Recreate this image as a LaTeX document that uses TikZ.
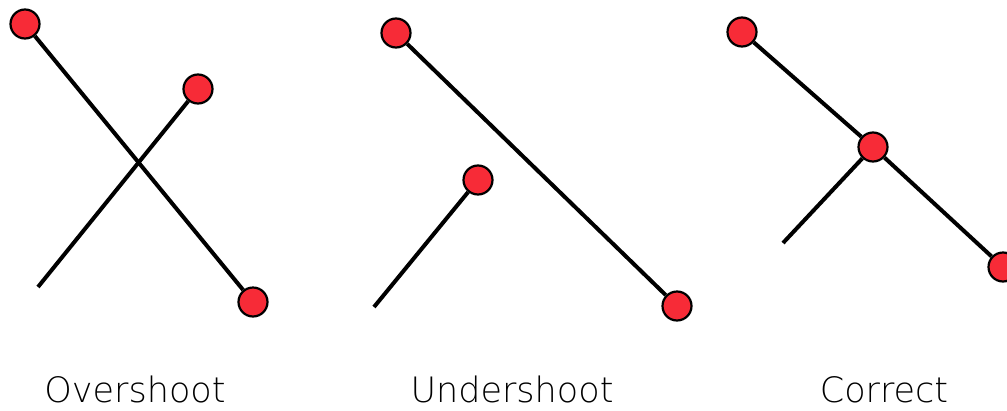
\documentclass[tikz,border=0pt]{standalone}
\usepackage{fontspec}
\setmainfont{DejaVu Sans}
\newfontfamily\fuenteetq{DejaVu Sans ExtraLight}
\usepackage{xcolor}
\usepackage{tikz}
\usetikzlibrary{positioning,calc}
\definecolor{crojo}{HTML}{F72B37}
\tikzset{
  nodo/.style={circle, draw=black, fill=crojo, line width=2.2pt,
    minimum size=29pt, inner sep=0pt},
  linea/.style={draw=black, line width=4pt},
  etq/.style={font=\fuenteetq\fontsize{35}{35}\selectfont, anchor=base, inner sep=0pt},
}

\begin{document}
\begin{tikzpicture}[x=1pt, y=-1pt]
  \useasboundingbox (0,0) rectangle (1007,410);
  % overshoot
  \node[nodo] (o1) at (25,24) {};
  \node[nodo] (o2) at (198,89) {};
  \node[nodo] (o3) at (253,302) {};
  \coordinate (o4) at (38,287);
  \draw[linea] (o1) -- (o3);
  \draw[linea] (o4) -- (o2);
  % undershoot
  \node[nodo] (u1) at (396,33) {};
  \node[nodo] (u2) at (478,180) {};
  \node[nodo] (u3) at (677,306) {};
  \coordinate (u4) at (374,307);
  \draw[linea] (u1) -- (u3);
  \draw[linea] (u4) -- (u2);
  % correct
  \node[nodo] (c1) at (742,32) {};
  \node[nodo] (c2) at (873,147) {};
  \node[nodo] (c3) at (1003,267) {};
  \coordinate (c4) at (783,243);
  \draw[linea] (c1) -- (c2) -- (c3);
  \draw[linea] (c4) -- (c2);
  % etiquetas
  \node[etq] (eo) at (135,402) {Overshoot};
  \node[etq] (eu) at (512,402) {Undershoot};
  \node[etq] (ec) at (884,402) {Correct};
\end{tikzpicture}
\end{document}
